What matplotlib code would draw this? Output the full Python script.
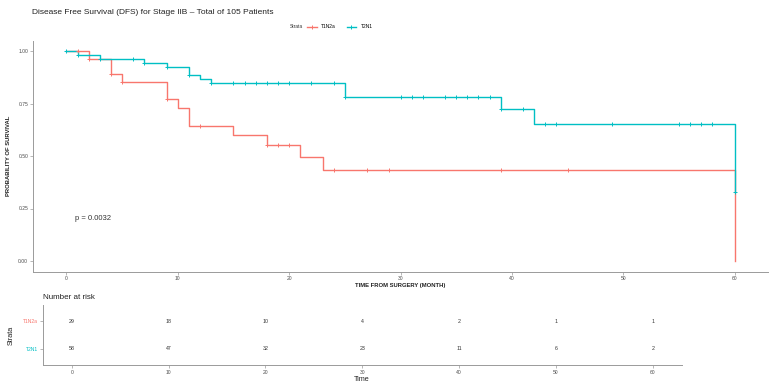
import numpy as np
import matplotlib
matplotlib.use("Agg")
import matplotlib.pyplot as plt
from matplotlib.lines import Line2D

plt.rcParams['font.family'] = ['Liberation Sans', 'DejaVu Sans']

# ---------------- data ----------------
strata = ["T1N2a", "T2N1"]
colors = {"T1N2a": "#F8766D", "T2N1": "#00BFC4"}

t1_times = [0, 2, 4, 5, 9, 10, 11, 15, 18, 21, 23, 60]
t1_surv = [1.0, 0.962, 0.890, 0.851, 0.771, 0.727, 0.643, 0.598, 0.552, 0.494, 0.432, 0.0]
t1_cens = [1, 2, 4, 5, 9, 12, 18, 19, 20, 24, 27, 29, 39, 45]

t2_times = [0, 1, 3, 7, 9, 11, 12, 13, 25, 39, 42, 60]
t2_surv = [1.0, 0.981, 0.962, 0.943, 0.924, 0.886, 0.867, 0.846, 0.782, 0.722, 0.652, 0.327]
t2_cens = [0, 1, 3, 6, 7, 9, 11, 13, 15, 16, 17, 18, 19, 20, 22, 24, 25, 30, 31, 32,
           34, 35, 36, 37, 38, 39, 41, 43, 44, 49, 55, 56, 57, 58, 60]

risk_times = [0, 10, 20, 30, 40, 50, 60]
risk_t1 = [29, 18, 10, 4, 2, 1, 1]
risk_t2 = [58, 47, 32, 23, 11, 6, 2]

p_text = "p = 0.0032"
title = "Disease Free Survival (DFS) for Stage IIB \u2013 Total of 105 Patients"

# ---------------- figure ----------------
W, H = 775, 388
fig = plt.figure(figsize=(W / 100, H / 100), dpi=100)
fig.patch.set_facecolor("white")


def px_axes(l, t, r, b):
    return fig.add_axes([l / W, 1 - b / H, (r - l) / W, (b - t) / H])


axis_col = "#9A9A9A"
tick_col = "#4D4D4D"

ax = px_axes(33, 40.5, 768, 271.5)
curves = [("T1N2a", t1_times, t1_surv, t1_cens), ("T2N1", t2_times, t2_surv, t2_cens)]
for name, tt, ss, cc in curves:
    ax.step(tt, ss, where="post", color=colors[name], lw=1.0, zorder=2)
    idx = np.searchsorted(tt, cc, side="right") - 1
    cs = np.asarray(ss)[idx]
    ax.plot(cc, cs, ls="none", marker="+", ms=3.2, mew=0.7, color=colors[name], zorder=3)

ax.set_xlim(-3, 63)
ax.set_ylim(-0.05, 1.05)
ax.set_xticks(range(0, 61, 10))
ax.set_yticks([0, 0.25, 0.5, 0.75, 1.0])
ax.set_yticklabels(["0.00", "0.25", "0.50", "0.75", "1.00"])
for s in ["top", "right"]:
    ax.spines[s].set_visible(False)
for s in ["left", "bottom"]:
    ax.spines[s].set_color(axis_col)
    ax.spines[s].set_linewidth(0.7)
ax.tick_params(labelsize=3.6, colors=axis_col, labelcolor=tick_col, length=2, width=0.5, pad=1.5)
ax.set_xlabel("TIME FROM SURGERY (MONTH)", fontsize=4.2, fontweight="bold", labelpad=1, color="#222222")
ax.set_ylabel("PROBABILITY OF SURVIVAL", fontsize=4.2, fontweight="bold", labelpad=5, color="#222222")
ax.text(0.75, 0.2, p_text, fontsize=5.5, ha="left", va="center", color="#333333")

fig.text(32 / W, 1 - 12.5 / H, title, fontsize=6.0, ha="left", va="center", color="#222222")

# legend
fig.text(290 / W, 1 - 27 / H, "Strata", fontsize=3.5, ha="left", va="center", color="#333333")
handles = [Line2D([], [], color=colors[n], lw=1.0, marker="+", ms=3.2, mew=0.7) for n in strata]
fig.legend(handles, strata, loc="center left", bbox_to_anchor=(307 / W, 1 - 27 / H), ncol=2,
           frameon=False, fontsize=3.5, handlelength=2.0, handletextpad=0.9, columnspacing=2.2,
           borderpad=0, borderaxespad=0)

# ---------------- risk table ----------------
axr = px_axes(42.7, 305, 681.7, 365)
for row, vals in [(2, risk_t1), (1, risk_t2)]:
    for x, v in zip(risk_times, vals):
        axr.text(x, row, str(v), fontsize=3.8, ha="center", va="center", color="#333333")
axr.set_xlim(-3, 63)
axr.set_ylim(0.4, 2.6)
axr.set_xticks(risk_times)
axr.set_yticks([2, 1])
axr.set_yticklabels(strata)
for s in ["top", "right"]:
    axr.spines[s].set_visible(False)
for s in ["left", "bottom"]:
    axr.spines[s].set_color(axis_col)
    axr.spines[s].set_linewidth(0.7)
axr.tick_params(labelsize=3.6, colors=axis_col, labelcolor=tick_col, length=2, width=0.5, pad=1.5)
for lab, n in zip(axr.get_yticklabels(), strata):
    lab.set_color(colors[n])
axr.set_xlabel("Time", fontsize=5.2, labelpad=1, color="#222222")
axr.set_ylabel("Strata", fontsize=5.2, labelpad=6, color="#222222")
axr.set_title("Number at risk", fontsize=5.8, loc="left", pad=4, color="#222222")

fig.savefig("out.png", dpi=100, facecolor="white")
